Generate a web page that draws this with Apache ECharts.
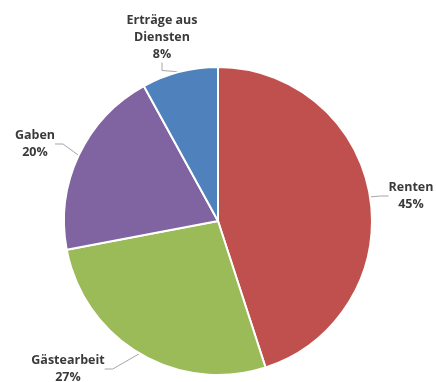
<!DOCTYPE html>
<html>
<head>
<meta charset="utf-8">
<script src="https://cdn.jsdelivr.net/npm/echarts@6/dist/echarts.min.js"></script>
<style>
  html, body { margin: 0; padding: 0; background: #fff; }
  #chart { width: 436px; height: 382px; }
</style>
</head>
<body>
<div id="chart"></div>
<script>
// 数据
const categories = ['Renten', 'Gästearbeit', 'Gaben', 'Erträge aus\nDiensten'];
const shares = [45, 27, 20, 8];
const colors = ['#C0504D', '#9BBB59', '#8064A2', '#4F81BD'];

// 标签位置（块中心）
const labelPos = [
  [411, 196],
  [68, 369],
  [35, 144],
  [162, 37]
];

const myChart = echarts.init(document.getElementById('chart'));

const option = {
  animation: false,
  series: [
    {
      type: 'pie',
      center: [218, 221],
      radius: 154,
      startAngle: 90,
      clockwise: true,
      data: categories.map((name, i) => ({
        name: name,
        value: shares[i],
        itemStyle: { color: colors[i] }
      })),
      itemStyle: {
        borderColor: '#ffffff',
        borderWidth: 2
      },
      label: {
        show: true,
        position: 'outside',
        formatter: '{b}\n{c}%',
        color: '#3a3a3a',
        fontFamily: 'Open Sans',
        fontWeight: 'bold',
        fontSize: 12.5,
        lineHeight: 17,
        align: 'center',
        overflow: 'none'
      },
      labelLine: {
        show: true,
        length: 8,
        length2: 8,
        lineStyle: { color: '#a6a6a6', width: 1 }
      },
      labelLayout: params => ({
        x: labelPos[params.dataIndex][0],
        y: labelPos[params.dataIndex][1],
        align: 'center',
        verticalAlign: 'middle'
      })
    }
  ]
};

myChart.setOption(option);
</script>
</body>
</html>
